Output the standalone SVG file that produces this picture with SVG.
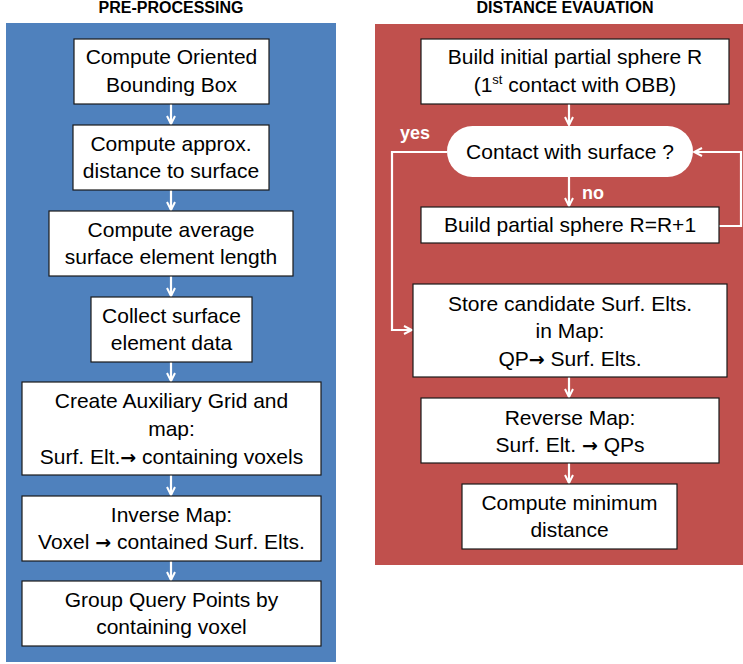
<svg xmlns="http://www.w3.org/2000/svg" width="743" height="664" viewBox="0 0 743 664">
<style>
.title{font-family:"Liberation Sans",Arial,sans-serif;font-weight:bold;font-size:16px;fill:#000;text-anchor:middle}
.box{fill:#fff;stroke:#1a1a1a;stroke-width:1.2}
.t{font-family:"Liberation Sans",Arial,sans-serif;font-size:21px;fill:#000;text-anchor:middle}
.ar{font-family:"DejaVu Sans",sans-serif;font-weight:bold;font-size:19px}
.lbl{font-family:"Liberation Sans",Arial,sans-serif;font-weight:bold;font-size:18px;fill:#fff}
.con{fill:none;stroke:#fff;stroke-width:2.2}
</style>
<defs>
<marker id="ah" viewBox="0 0 10 10" refX="9" refY="5" markerWidth="10" markerHeight="10" markerUnits="userSpaceOnUse" orient="auto">
<path d="M1,1 L9,5 L1,9" fill="none" stroke="#fff" stroke-width="2"/>
</marker>
</defs>
<rect width="743" height="664" fill="#fff"/>
<text class="title" x="171" y="13">PRE-PROCESSING</text>
<text class="title" x="565" y="13">DISTANCE EVAUATION</text>
<rect x="6" y="23" width="330" height="639" fill="#4F81BD"/>
<rect x="375" y="24" width="368" height="541" fill="#C0504D"/>

<g id="connectors">
<line class="con" x1="171" y1="104" x2="171" y2="124" marker-end="url(#ah)"/>
<line class="con" x1="171" y1="190" x2="171" y2="210" marker-end="url(#ah)"/>
<line class="con" x1="171" y1="276" x2="171" y2="296" marker-end="url(#ah)"/>
<line class="con" x1="171" y1="362" x2="171" y2="381" marker-end="url(#ah)"/>
<line class="con" x1="171" y1="475" x2="171" y2="495" marker-end="url(#ah)"/>
<line class="con" x1="171" y1="561" x2="171" y2="580" marker-end="url(#ah)"/>
<line class="con" x1="569" y1="104" x2="569" y2="125" marker-end="url(#ah)"/>
<line class="con" x1="569" y1="177" x2="569" y2="206" marker-end="url(#ah)"/>
<polyline class="con" points="447,152 392,152 392,330 412,330" marker-end="url(#ah)"/>
<polyline class="con" points="719,226 741,226 741,152 694,152" marker-end="url(#ah)"/>
<line class="con" x1="569" y1="377" x2="569" y2="397" marker-end="url(#ah)"/>
<line class="con" x1="569" y1="463" x2="569" y2="483" marker-end="url(#ah)"/>
<text class="lbl" x="400" y="139">yes</text>
<text class="lbl" x="582" y="199">no</text>
</g>

<g id="n1"><rect class="box" x="74" y="39" width="195" height="65"/>
<text class="t" x="171.5" y="64">Compute Oriented</text><text class="t" x="171.5" y="92">Bounding Box</text></g>
<g id="n2"><rect class="box" x="73" y="125" width="196" height="65"/>
<text class="t" x="171" y="151">Compute approx.</text><text class="t" x="171" y="178">distance to surface</text></g>
<g id="n3"><rect class="box" x="49" y="211" width="244" height="65"/>
<text class="t" x="171" y="237">Compute average</text><text class="t" x="171" y="264">surface element length</text></g>
<g id="n4"><rect class="box" x="91" y="297" width="161" height="65"/>
<text class="t" x="171.5" y="323">Collect surface</text><text class="t" x="171.5" y="350">element data</text></g>
<g id="n5"><rect class="box" x="22" y="382" width="299" height="93"/>
<text class="t" x="171.5" y="408">Create Auxiliary Grid and</text><text class="t" x="171.5" y="436">map:</text><text class="t" x="171.5" y="464">Surf. Elt.<tspan class="ar">→</tspan> containing voxels</text></g>
<g id="n6"><rect class="box" x="22" y="496" width="299" height="65"/>
<text class="t" x="171.5" y="522">Inverse Map:</text><text class="t" x="171.5" y="549">Voxel <tspan class="ar">→</tspan> contained Surf. Elts.</text></g>
<g id="n7"><rect class="box" x="22" y="581" width="299" height="65"/>
<text class="t" x="171.5" y="607">Group Query Points by</text><text class="t" x="171.5" y="634">containing voxel</text></g>

<g id="r1"><rect class="box" x="421" y="39" width="308" height="65"/>
<text class="t" x="575" y="64">Build initial partial sphere R</text><text class="t" x="575" y="92">(1<tspan font-size="13" dy="-8">st</tspan><tspan dy="8"> contact with OBB)</tspan></text></g>
<g id="r2"><rect x="447" y="126" width="246" height="51" rx="25.5" fill="#fff"/>
<text class="t" x="570" y="159">Contact with surface ?</text></g>
<g id="r3"><rect class="box" x="421" y="207" width="298" height="36"/>
<text class="t" x="570" y="232">Build partial sphere R=R+1</text></g>
<g id="r4"><rect class="box" x="413" y="284" width="314" height="93"/>
<text class="t" x="570" y="311">Store candidate Surf. Elts.</text><text class="t" x="570" y="338">in Map:</text><text class="t" x="570" y="366">QP<tspan class="ar">→</tspan> Surf. Elts.</text></g>
<g id="r5"><rect class="box" x="421" y="398" width="298" height="65"/>
<text class="t" x="570" y="425">Reverse Map:</text><text class="t" x="570" y="452">Surf. Elt. <tspan class="ar">→</tspan> QPs</text></g>
<g id="r6"><rect class="box" x="462" y="484" width="215" height="65"/>
<text class="t" x="569.5" y="510">Compute minimum</text><text class="t" x="569.5" y="537">distance</text></g>
</svg>
